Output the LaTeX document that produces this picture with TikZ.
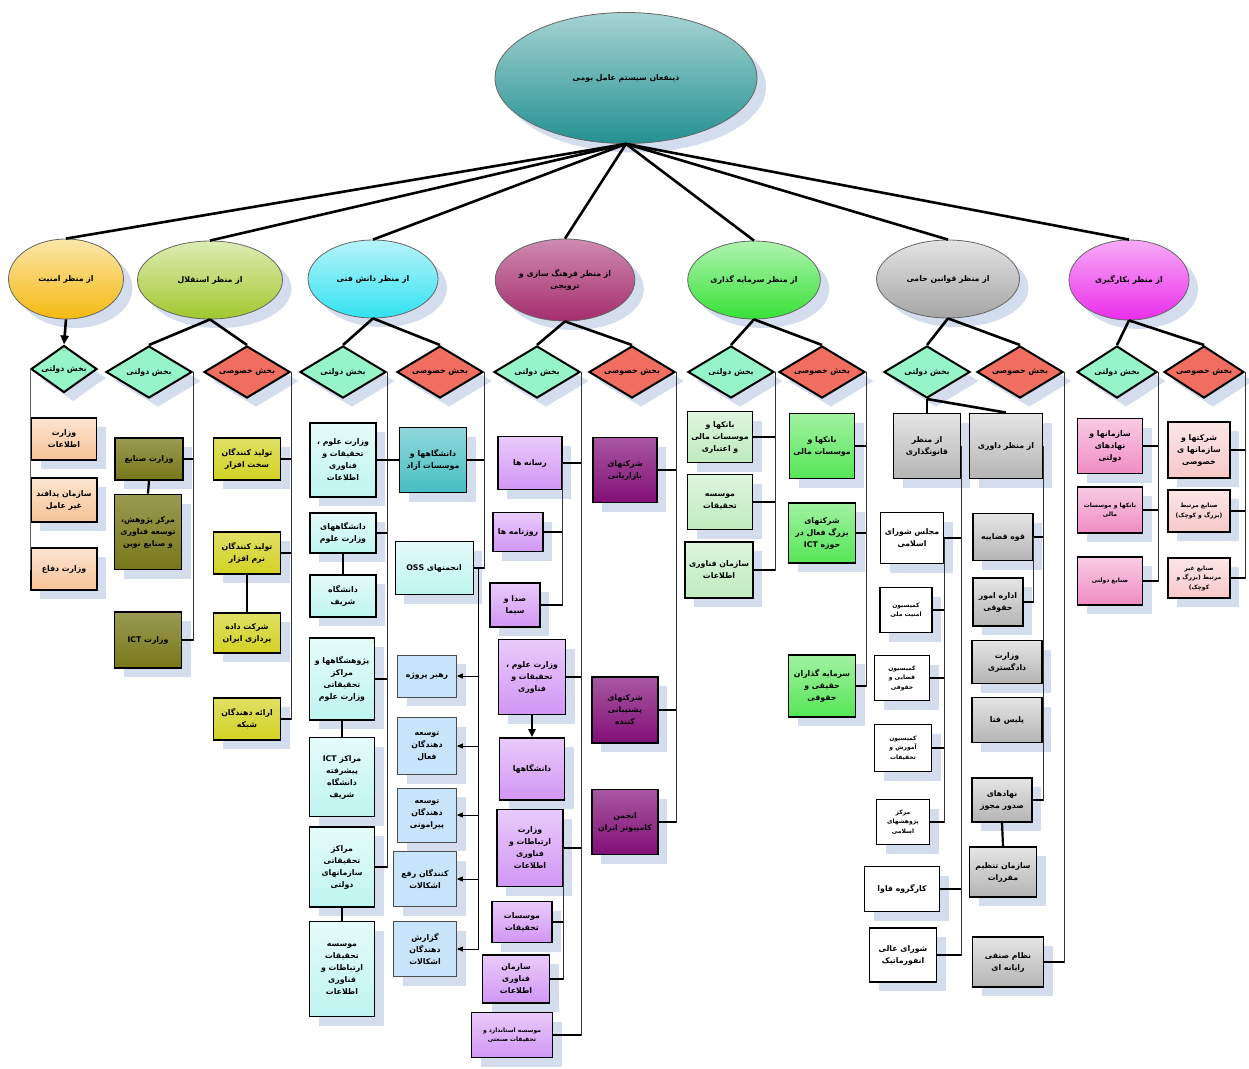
\documentclass[tikz,border=0pt]{standalone}
\usepackage{fontspec}
\usetikzlibrary{shapes.geometric,shadows,arrows.meta}
\newfontfamily\arabicfont[Script=Arabic]{DejaVu Sans}
\TeXXeTstate=1
\newcommand{\pers}[1]{\beginR #1\endR}
\newcommand{\labelfont}{\arabicfont\bfseries\fontsize{7.8}{12}\selectfont}
\newcommand{\tinylabel}{\arabicfont\bfseries\fontsize{6}{9.5}\selectfont}

\definecolor{mint}{RGB}{150,245,200}
\definecolor{salmon}{RGB}{240,110,95}
\definecolor{shadowblue}{RGB}{200,212,232}
\definecolor{rootteal}{RGB}{35,145,145}
\definecolor{secyellow}{RGB}{245,185,15}
\definecolor{indgreen}{RGB}{160,200,45}
\definecolor{knowcyan}{RGB}{50,225,240}
\definecolor{culmaroon}{RGB}{165,45,110}
\definecolor{invgreen}{RGB}{55,225,55}
\definecolor{lawgray}{RGB}{165,165,165}
\definecolor{empmagenta}{RGB}{235,45,235}
\definecolor{peach}{RGB}{248,195,150}
\definecolor{olive}{RGB}{120,120,25}
\definecolor{mustard}{RGB}{210,210,35}
\definecolor{palecyan}{RGB}{190,245,240}
\definecolor{tealbox}{RGB}{70,190,195}
\definecolor{ossblue}{RGB}{200,228,250}
\definecolor{lilac}{RGB}{210,150,245}
\definecolor{plum}{RGB}{130,15,120}
\definecolor{palegreen}{RGB}{190,235,190}
\definecolor{leafgreen}{RGB}{85,230,85}
\definecolor{boxgray}{RGB}{180,180,180}
\definecolor{rose}{RGB}{240,140,195}
\definecolor{blush}{RGB}{248,200,200}

\begin{document}
\begin{tikzpicture}[x=1pt,y=-1pt]
%style for shadows
\tikzstyle{shadowed} = [drop shadow={shadow xshift=9pt, shadow yshift=-9pt, fill=shadowblue, opacity=0.8}]

%style for perspective ellipse
\tikzstyle{view} = [ellipse, draw=black!60, line width=0.8pt, align=center, font=\labelfont, shadowed]

%style for sector diamonds
\tikzstyle{gov} = [diamond, draw=black, line width=2pt, fill=mint, minimum width=86, minimum height=52, inner sep=0pt, aspect=1.7, font=\labelfont, shadowed]
\tikzstyle{prv} = [gov, fill=salmon]

%style for boxes
\tikzstyle{box} = [rectangle, draw=black, line width=1.8pt, align=center, inner sep=1pt, font=\labelfont, shadowed]
\tikzstyle{secbox} = [box, top color=peach!45, bottom color=peach]
\tikzstyle{indg} = [box, top color=olive!75, bottom color=olive]
\tikzstyle{indp} = [box, top color=mustard!70, bottom color=mustard]
\tikzstyle{knowg} = [box, top color=palecyan!40, bottom color=palecyan]
\tikzstyle{knowp} = [box, top color=tealbox!60, bottom color=tealbox]
\tikzstyle{oss} = [box, line width=0.8pt, draw=black!70, fill=ossblue]
\tikzstyle{culg} = [box, top color=lilac!50, bottom color=lilac]
\tikzstyle{culp} = [box, top color=plum!70, bottom color=plum]
\tikzstyle{invg} = [box, top color=palegreen!50, bottom color=palegreen]
\tikzstyle{invp} = [box, top color=leafgreen!55, bottom color=leafgreen]
\tikzstyle{lawg} = [box, top color=boxgray!35, bottom color=boxgray]
\tikzstyle{laww} = [box, fill=white]
\tikzstyle{empg} = [box, top color=rose!45, bottom color=rose]
\tikzstyle{empp} = [box, top color=blush!45, bottom color=blush]

%style for lines
\tikzstyle{trunk} = [line width=2.6pt]
\tikzstyle{bus} = [line width=1pt, black!80]
\tikzstyle{stub} = [line width=2.2pt]
\tikzstyle{ossarrow} = [line width=0.8pt, -{Triangle[length=6pt,width=5pt]}]

\useasboundingbox (0,0) rectangle (1249,1068);

%place ellipses
\node[view, top color=rootteal!40, bottom color=rootteal, minimum width=262, minimum height=131] (root) at (626,78) {\pers{ذینفعان سیستم عامل بومی}};
\node[view, top color=secyellow!35, bottom color=secyellow, minimum width=115, minimum height=80] (SE) at (66,279) {\pers{از منظر امنیت}};
\node[view, top color=indgreen!35, bottom color=indgreen, minimum width=145, minimum height=78] (IE) at (210,280) {\pers{از منظر استقلال}};
\node[view, top color=knowcyan!35, bottom color=knowcyan, minimum width=130, minimum height=78] (KE) at (373,279) {\pers{از منظر دانش فنی}};
\node[view, top color=culmaroon!55, bottom color=culmaroon, minimum width=133, minimum height=82] (CE) at (565,280) {\pers{از منظر فرهنگ سازی و}\\\pers{ترویجی}};
\node[view, top color=invgreen!40, bottom color=invgreen, minimum width=130, minimum height=78] (VE) at (754,280) {\pers{از منظر سرمایه گذاری}};
\node[view, top color=lawgray!30, bottom color=lawgray, minimum width=143, minimum height=78] (LE) at (948,279) {\pers{از منظر قوانین حامی}};
\node[view, top color=empmagenta!40, bottom color=empmagenta, minimum width=120, minimum height=80] (EE) at (1129,280) {\pers{از منظر بکارگیری}};

%place diamonds
\node[gov, minimum width=66, minimum height=47] (SDg) at (64,369) {\pers{بخش دولتی}};
\node[gov] (IDg) at (149,372) {\pers{بخش دولتی}};
\node[prv] (IDp) at (247,372) {\pers{بخش خصوصی}};
\node[gov] (KDg) at (343,372) {\pers{بخش دولتی}};
\node[prv] (KDp) at (440,372) {\pers{بخش خصوصی}};
\node[gov] (CDg) at (537,372) {\pers{بخش دولتی}};
\node[prv] (CDp) at (632,372) {\pers{بخش خصوصی}};
\node[gov] (VDg) at (731,372) {\pers{بخش دولتی}};
\node[prv] (VDp) at (822,372) {\pers{بخش خصوصی}};
\node[gov] (LDg) at (927,372) {\pers{بخش دولتی}};
\node[prv] (LDp) at (1020,372) {\pers{بخش خصوصی}};
\node[gov, minimum width=80] (EDg) at (1117,372) {\pers{بخش دولتی}};
\node[prv, minimum width=80] (EDp) at (1204,372) {\pers{بخش خصوصی}};

%security boxes
\node[secbox, minimum width=65, minimum height=42] (SGa) at (64,439) {\pers{وزارت}\\\pers{اطلاعات}};
\node[secbox, minimum width=66, minimum height=44] (SGb) at (64,500) {\pers{سازمان پدافند}\\\pers{غیر عامل}};
\node[secbox, minimum width=66, minimum height=42] (SGc) at (64,569) {\pers{وزارت دفاع}};

%independence boxes
\node[indg, minimum width=68, minimum height=42] (IGa) at (149,459) {\pers{وزارت صنایع}};
\node[indg, minimum width=67, minimum height=75] (IGb) at (148,532) {\pers{مرکز پژوهش،}\\\pers{توسعه فناوری}\\\pers{و صنایع نوین}};
\node[indg, minimum width=67, minimum height=56] (IGc) at (148,640) {\pers{وزارت ICT}};
\node[indp, minimum width=67, minimum height=42] (IPa) at (247,459) {\pers{تولید کنندگان}\\\pers{سخت افزار}};
\node[indp, minimum width=67, minimum height=42] (IPb) at (247,553) {\pers{تولید کنندگان}\\\pers{نرم افزار}};
\node[indp, minimum width=67, minimum height=40] (IPc) at (247,633) {\pers{شرکت داده}\\\pers{پردازی ایران}};
\node[indp, minimum width=67, minimum height=42] (IPd) at (247,719) {\pers{ارائه دهندگان}\\\pers{شبکه}};

%knowledge boxes
\node[knowg, minimum width=66, minimum height=74] (KGa) at (343,460) {\pers{وزارت علوم ،}\\\pers{تحقیقات و}\\\pers{فناوری}\\\pers{اطلاعات}};
\node[knowg, minimum width=66, minimum height=40] (KGb) at (343,533) {\pers{دانشگاههای}\\\pers{وزارت علوم}};
\node[knowg, minimum width=66, minimum height=42] (KGc) at (343,596) {\pers{دانشگاه}\\\pers{شریف}};
\node[knowg, minimum width=65, minimum height=82] (KGd) at (342,679) {\pers{پژوهشگاهها و}\\\pers{مراکز}\\\pers{تحقیقاتی}\\\pers{وزارت علوم}};
\node[knowg, minimum width=65, minimum height=79] (KGe) at (342,777) {\pers{مراکز ICT}\\\pers{پیشرفته}\\\pers{دانشگاه}\\\pers{شریف}};
\node[knowg, minimum width=65, minimum height=80] (KGf) at (342,867) {\pers{مراکز}\\\pers{تحقیقاتی}\\\pers{سازمانهای}\\\pers{دولتی}};
\node[knowg, minimum width=65, minimum height=95] (KGg) at (342,969) {\pers{موسسه}\\\pers{تحقیقات}\\\pers{ارتباطات و}\\\pers{فناوری}\\\pers{اطلاعات}};
\node[knowp, minimum width=67, minimum height=65] (KPa) at (433,460) {\pers{دانشگاهها و}\\\pers{موسسات آزاد}};
\node[knowg, line width=1pt, minimum width=78, minimum height=53] (KPb) at (434,568) {\pers{انجمنهای OSS}};
\node[oss, minimum width=59, minimum height=42] (Oa) at (427,676) {\pers{رهبر پروژه}};
\node[oss, minimum width=59, minimum height=57] (Ob) at (427,746) {\pers{توسعه}\\\pers{دهندگان}\\\pers{فعال}};
\node[oss, minimum width=59, minimum height=54] (Oc) at (427,815) {\pers{توسعه}\\\pers{دهندگان}\\\pers{پیرامونی}};
\node[oss, minimum width=63, minimum height=55] (Od) at (425,879) {\pers{کنندگان رفع}\\\pers{اشکالات}};
\node[oss, minimum width=63, minimum height=55] (Oe) at (425,949) {\pers{گزارش}\\\pers{دهندگان}\\\pers{اشکالات}};

%culture boxes
\node[culg, minimum width=64, minimum height=53] (CGa) at (530,463) {\pers{رسانه ها}};
\node[culg, minimum width=50, minimum height=39] (CGb) at (518,532) {\pers{روزنامه ها}};
\node[culg, minimum width=50, minimum height=44] (CGc) at (515,605) {\pers{صدا و}\\\pers{سیما}};
\node[culg, minimum width=67, minimum height=75] (CGd) at (532,677) {\pers{وزارت علوم ،}\\\pers{تحقیقات و}\\\pers{فناوری}};
\node[culg, minimum width=65, minimum height=62] (CGe) at (532,769) {\pers{دانشگاهها}};
\node[culg, minimum width=66, minimum height=77] (CGf) at (530,848) {\pers{وزارت}\\\pers{ارتباطات و}\\\pers{فناوری}\\\pers{اطلاعات}};
\node[culg, minimum width=60, minimum height=41] (CGg) at (522,922) {\pers{موسسات}\\\pers{تحقیقات}};
\node[culg, minimum width=67, minimum height=48] (CGh) at (516,979) {\pers{سازمان}\\\pers{فناوری}\\\pers{اطلاعات}};
\node[culg, minimum width=81, minimum height=45, font=\tinylabel] (CGi) at (512,1035) {\pers{موسسه استاندارد و}\\\pers{تحقیقات صنعتی}};
\node[culp, minimum width=64, minimum height=65] (CPa) at (625,470) {\pers{شرکتهای}\\\pers{بازاریابی}};
\node[culp, minimum width=66, minimum height=66] (CPb) at (625,710) {\pers{شرکتهای}\\\pers{پشتیبانی}\\\pers{کننده}};
\node[culp, minimum width=66, minimum height=65] (CPc) at (625,822) {\pers{انجمن}\\\pers{کامپیوتر ایران}};

%investment boxes
\node[invg, minimum width=65, minimum height=51] (VGa) at (720,437) {\pers{بانکها و}\\\pers{موسسات مالی}\\\pers{و اعتباری}};
\node[invg, minimum width=65, minimum height=55] (VGb) at (720,502) {\pers{موسسه}\\\pers{تحقیقات}};
\node[invg, minimum width=68, minimum height=56] (VGc) at (719,570) {\pers{سازمان فناوری}\\\pers{اطلاعات}};
\node[invp, minimum width=65, minimum height=65] (VPa) at (822,446) {\pers{بانکها و}\\\pers{موسسات مالی}};
\node[invp, minimum width=67, minimum height=60] (VPb) at (822,533) {\pers{شرکتهای}\\\pers{بزرگ فعال در}\\\pers{حوزه ICT}};
\node[invp, minimum width=67, minimum height=62] (VPc) at (822,686) {\pers{سرمایه گذاران}\\\pers{حقیقی و}\\\pers{حقوقی}};

%law boxes
\node[lawg, minimum width=67, minimum height=65] (LQ) at (927,446) {\pers{از منظر}\\\pers{قانونگذاری}};
\node[lawg, minimum width=73, minimum height=65] (LD) at (1006,446) {\pers{از منظر داوری}};
\node[laww, minimum width=63, minimum height=51] (LQa) at (912,538) {\pers{مجلس شورای}\\\pers{اسلامی}};
\node[laww, minimum width=52, minimum height=45, font=\tinylabel] (LQb) at (906,610) {\pers{کمیسیون}\\\pers{امنیت ملی}};
\node[laww, minimum width=55, minimum height=45, font=\tinylabel] (LQc) at (902,678) {\pers{کمیسیون}\\\pers{قضایی و}\\\pers{حقوقی}};
\node[laww, minimum width=57, minimum height=47, font=\tinylabel] (LQd) at (903,748) {\pers{کمیسیون}\\\pers{آموزش و}\\\pers{تحقیقات}};
\node[laww, minimum width=53, minimum height=45, font=\tinylabel] (LQe) at (903,822) {\pers{مرکز}\\\pers{پژوهشهای}\\\pers{اسلامی}};
\node[laww, minimum width=75, minimum height=45] (LQf) at (902,889) {\pers{کارگروه فاوا}};
\node[laww, minimum width=67, minimum height=54] (LQg) at (903,955) {\pers{شورای عالی}\\\pers{انفورماتیک}};
\node[lawg, minimum width=60, minimum height=47] (LDa) at (1003,537) {\pers{قوه قضاییه}};
\node[lawg, minimum width=50, minimum height=48] (LDb) at (998,602) {\pers{اداره امور}\\\pers{حقوقی}};
\node[lawg, minimum width=70, minimum height=43] (LDc) at (1007,662) {\pers{وزارت}\\\pers{دادگستری}};
\node[lawg, minimum width=70, minimum height=45] (LDd) at (1007,720) {\pers{پلیس فتا}};
\node[lawg, minimum width=60, minimum height=44] (LDe) at (1002,800) {\pers{نهادهای}\\\pers{صدور مجوز}};
\node[lawg, minimum width=67, minimum height=50] (LDf) at (1003,872) {\pers{سازمان تنظیم}\\\pers{مقررات}};
\node[lawg, minimum width=71, minimum height=50] (LPa) at (1008,962) {\pers{نظام صنفی}\\\pers{رایانه ای}};

%employment boxes
\node[empg, minimum width=65, minimum height=55] (EGa) at (1110,446) {\pers{سازمانها و}\\\pers{نهادهای}\\\pers{دولتی}};
\node[empg, minimum width=65, minimum height=46, font=\tinylabel] (EGb) at (1110,510) {\pers{بانکها و موسسات}\\\pers{مالی}};
\node[empg, minimum width=65, minimum height=48, font=\tinylabel] (EGc) at (1110,581) {\pers{صنایع دولتی}};
\node[empp, minimum width=62, minimum height=56] (EPa) at (1199,450) {\pers{شرکتها و}\\\pers{سازمانها ی}\\\pers{خصوصی}};
\node[empp, minimum width=62, minimum height=42, font=\tinylabel] (EPb) at (1199,511) {\pers{صنایع مرتبط}\\\pers{(بزرگ و کوچک)}};
\node[empp, minimum width=62, minimum height=40, font=\tinylabel] (EPc) at (1199,578) {\pers{صنایع غیر}\\\pers{مرتبط (بزرگ و}\\\pers{کوچک)}};

%connect root to ellipses
\foreach \e in {SE,IE,KE,CE,VE,LE,EE}
  \draw[trunk] (root.south) -- (\e.north);

%connect ellipses to diamonds
\draw[trunk, -{Triangle[length=9pt,width=8pt]}] (SE.south) -- (SDg.north);
\foreach \e/\d in {IE/IDg,IE/IDp,KE/KDg,KE/KDp,CE/CDg,CE/CDp,VE/VDg,VE/VDp,LE/LDg,LE/LDp,EE/EDg,EE/EDp}
  \draw[trunk] (\e.south) -- (\d.north);
\draw[trunk] (LDg.south) -- (LQ.north);
\draw[trunk] (LDg.south) -- (LD.north);

%security line on the left
\foreach \b in {SGa,SGb,SGc}
  \draw[bus, black!60] (SDg.west) |- (\b.west);

%buses with stubs
\foreach \d/\b in {IDg/IGa,IDg/IGc,IDp/IPa,IDp/IPb,IDp/IPd,
    KDg/KGa,KDg/KGb,KDg/KGd,KDg/KGf,KDp/KPa,KDp/KPb,
    CDg/CGa,CDg/CGd,CDg/CGf,CDg/CGi,CGa/CGb,CGa/CGc,CGf/CGg,CGf/CGh,
    CDp/CPa,CDp/CPb,CDp/CPc,
    VDg/VGa,VDg/VGb,VDg/VGc,VDp/VPa,VDp/VPb,VDp/VPc,
    LQ/LQa,LQ/LQf,LQ/LQg,LQa/LQb,LQa/LQc,LQa/LQd,LQa/LQe,
    LD/LDa,LD/LDc,LD/LDd,LD/LDe,LDa/LDb,LDp/LPa,
    EDg/EGa,EDg/EGb,EDg/EGc,EDp/EPa,EDp/EPb,EDp/EPc}{
  \draw[bus] (\d.east) |- (\b.east);
  \draw[stub] (\b.east) -- (\b.east -| \d.east);
}

%vertical links between boxes
\foreach \a/\b in {IGa/IGb,IPb/IPc,KGb/KGc,KGd/KGe,KGf/KGg,LDe/LDf}
  \draw[stub] (\a.south) -- (\b.north);
\draw[stub] (KGa.east) -- (KPa.west);
\draw[trunk, -{Triangle[length=8pt,width=7pt]}] (CGd.south) -- (CGe.north);

%open source roles
\foreach \b in {Oa,Ob,Oc,Od,Oe}
  \draw[ossarrow] (KPb.east) -- ++(5,0) |- (\b.east);
\end{tikzpicture}
\end{document}
